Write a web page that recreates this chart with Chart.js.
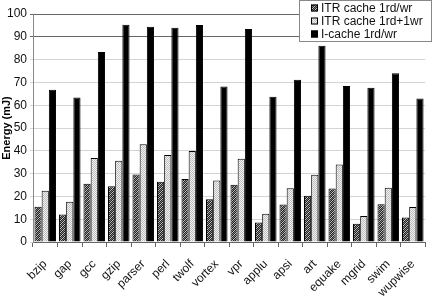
<!DOCTYPE html>
<html>
<head>
<meta charset="utf-8">
<script src="https://cdn.jsdelivr.net/npm/chart.js@4/dist/chart.umd.min.js"></script>
<style>
  html, body { margin: 0; padding: 0; background: #fff; }
  #wrap { width: 433px; height: 298px; }
</style>
</head>
<body>
<div id="wrap"><canvas id="energyChart" width="433" height="298"></canvas></div>
<script>
const benchmarks = ['bzip', 'gap', 'gcc', 'gzip', 'parser', 'perl', 'twolf', 'vortex',
  'vpr', 'applu', 'apsi', 'art', 'equake', 'mgrid', 'swim', 'wupwise'];
const itr1rdwr = [15.5, 12.1, 25.5, 24.5, 29.6, 26.4, 27.6, 18.7, 25.1, 8.5, 16.4, 20.3, 23.5, 8.0, 16.6, 10.7];
const itr1rd1wr = [22.5, 17.7, 36.8, 35.6, 42.9, 38.2, 39.9, 27.0, 36.5, 12.4, 23.6, 29.5, 34.0, 11.4, 23.8, 15.3];
const icache1rdwr = [66.8, 63.4, 83.3, 95.3, 94.4, 94.0, 95.2, 68.2, 93.4, 63.7, 71.2, 86.1, 68.4, 67.7, 74.0, 62.9];
const seriesNames = ['ITR cache 1rd/wr', 'ITR cache 1rd+1wr', 'I-cache 1rd/wr'];

const FONT = "'Liberation Sans', Arial, sans-serif";

// small canvas patterns for the two ITR series
function hatchPattern() {
  const c = document.createElement('canvas');
  c.width = 4; c.height = 4;
  const g = c.getContext('2d');
  g.fillStyle = '#222';
  g.fillRect(0, 0, 4, 4);
  g.fillStyle = '#c4c4c4';
  for (let i = 0; i < 4; i++) g.fillRect((i + 1) % 4, 3 - i, 1, 1);
  g.fillStyle = '#808080';
  for (let i = 0; i < 4; i++) g.fillRect((i + 3) % 4, 3 - i, 1, 1);
  return document.getElementById('energyChart').getContext('2d').createPattern(c, 'repeat');
}
function dotPattern() {
  const c = document.createElement('canvas');
  c.width = 2; c.height = 2;
  const g = c.getContext('2d');
  g.fillStyle = '#bdbdbd';
  g.fillRect(0, 0, 2, 2);
  g.fillStyle = '#f2f2f2';
  g.fillRect(1, 0, 1, 1);
  g.fillRect(0, 1, 1, 1);
  return document.getElementById('energyChart').getContext('2d').createPattern(c, 'repeat');
}
const fills = [hatchPattern(), dotPattern(), '#000'];

// legend drawn as a boxed overlay in the upper right corner
const boxLegend = {
  id: 'boxLegend',
  afterDraw(chart) {
    const ctx = chart.ctx;
    const x0 = 299.5, y0 = 0.5, w = 132, h = 41;
    ctx.save();
    ctx.fillStyle = '#fff';
    ctx.fillRect(x0, y0, w, h);
    ctx.strokeStyle = '#888';
    ctx.lineWidth = 1;
    ctx.strokeRect(x0, y0, w, h);
    ctx.font = '12px ' + FONT;
    ctx.textBaseline = 'middle';
    seriesNames.forEach((name, i) => {
      const cy = 8 + i * 13;
      ctx.fillStyle = fills[i];
      ctx.fillRect(311, cy - 3.5, 7, 7);
      ctx.strokeStyle = '#000';
      ctx.strokeRect(311.5, cy - 3, 6, 6);
      ctx.fillStyle = '#111';
      ctx.fillText(name, 321, cy + 0.5);
    });
    ctx.restore();
  }
};

new Chart(document.getElementById('energyChart'), {
  type: 'bar',
  data: {
    labels: benchmarks,
    datasets: [itr1rdwr, itr1rd1wr, icache1rdwr].map((vals, i) => ({
      label: seriesNames[i],
      data: vals,
      backgroundColor: fills[i],
      borderColor: '#000',
      borderWidth: 1,
      categoryPercentage: 0.88,
      barPercentage: 1.0
    }))
  },
  options: {
    responsive: false,
    animation: false,
    layout: { padding: { top: 14, right: 1, left: 0, bottom: 0 } },
    plugins: {
      legend: { display: false },
      tooltip: { enabled: false }
    },
    scales: {
      x: {
        grid: {
          offset: true,
          drawOnChartArea: false,
          color: '#666',
          tickLength: 5
        },
        border: { color: '#666' },
        ticks: {
          font: { family: FONT, size: 12 },
          color: '#111',
          minRotation: 45,
          maxRotation: 45,
          padding: 10
        },
        afterFit(scale) { scale.height = 56; }
      },
      y: {
        min: 0,
        max: 100,
        ticks: {
          stepSize: 10,
          font: { family: FONT, size: 12 },
          color: '#111',
          padding: 3
        },
        grid: {
          color: ctx => (ctx.tick && ctx.tick.value >= 90 ? '#666' : '#d4d4d4'),
          tickLength: 3
        },
        border: { color: '#888' },
        title: {
          display: true,
          text: 'Energy (mJ)',
          font: { family: FONT, size: 11, weight: 'bold' },
          color: '#000',
          padding: 0
        },
        afterFit(scale) { scale.width = 33; }
      }
    }
  },
  plugins: [boxLegend]
});
</script>
</body>
</html>
